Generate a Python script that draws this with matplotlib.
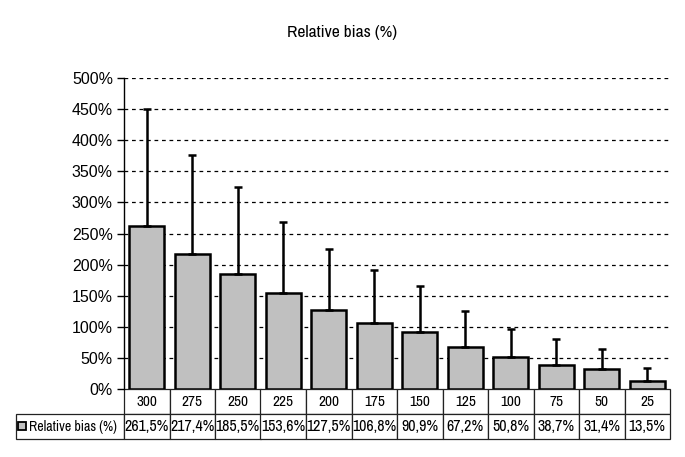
import numpy as np
import matplotlib.pyplot as plt
from matplotlib.patches import Rectangle

categories = ['300', '275', '250', '225', '200', '175', '150', '125', '100', '75', '50', '25']
bias = [261.5, 217.4, 185.5, 153.6, 127.5, 106.8, 90.9, 67.2, 50.8, 38.7, 31.4, 13.5]
upper = [450, 376, 325, 268, 225, 191, 166, 126, 97, 80, 65, 34]
yticks = [0, 50, 100, 150, 200, 250, 300, 350, 400, 450, 500]
series_name = 'Relative bias (%)'

narrow = ['Archivo Narrow', 'Roboto Condensed', 'Liberation Sans', 'DejaVu Sans']
plt.rcParams['font.family'] = ['Liberation Sans', 'DejaVu Sans']

fig = plt.figure(figsize=(6.85, 4.57), dpi=100)
ax = fig.add_axes([124 / 685, 1 - 389 / 457, 546 / 685, 311 / 457])

x = np.arange(len(categories))
bias = np.array(bias)
err = np.array(upper) - bias
ax.bar(x, bias, width=0.77, color='#c0c0c0', edgecolor='black', linewidth=1.8, zorder=3)
ax.errorbar(x, bias, yerr=[np.zeros_like(err), err], fmt='none', ecolor='black',
            elinewidth=1.8, capsize=3, capthick=1.8, zorder=4)

ax.set_xlim(-0.5, len(categories) - 0.5)
ax.set_ylim(0, 500)
ax.set_yticks(yticks)
ax.set_yticklabels([f'{v}%' for v in yticks], fontsize=11.5)
ax.set_xticks([])
for v in yticks[1:]:
    ax.axhline(v, color='black', linestyle=(0, (3, 3)), linewidth=0.9, zorder=1)
for s in ['top', 'right', 'bottom']:
    ax.spines[s].set_visible(False)
ax.spines['left'].set_linewidth(1.0)
ax.tick_params(axis='y', direction='out', length=5, width=1.0, pad=3)

# data table under the bars
label_w = 108 / 546
row_h = 25 / 311
cells = [[''] + categories,
         [series_name] + [f'{v:.1f}%'.replace('.', ',') for v in bias]]
col_w = [label_w] + [1 / len(categories)] * len(categories)
tab = ax.table(cellText=cells, colWidths=col_w, cellLoc='center',
               bbox=[-label_w, -2 * row_h, 1 + label_w, 2 * row_h])
tab.auto_set_font_size(False)
for (r, c), cell in tab.get_celld().items():
    cell.set_linewidth(0.9)
    cell.set_edgecolor('#222222')
    t = cell.get_text()
    t.set_fontfamily(narrow)
    t.set_fontsize(11 if r == 0 else 11.5)
tab[0, 0].visible_edges = 'open'
lab = tab[1, 0]
lab._loc = 'left'
lab.get_text().set_ha('left')
lab.get_text().set_fontsize(10)
lab.PAD = 0.12

ax.add_patch(Rectangle((-label_w + 2 / 546, -1.5 * row_h - 3.5 / 311), 8 / 546, 8 / 311,
                       transform=ax.transAxes, facecolor='#c0c0c0', edgecolor='black',
                       linewidth=1.3, clip_on=False, zorder=5))

fig.text(0.5, 1 - 33 / 457, series_name, ha='center', va='center', fontsize=12.5,
         family=narrow)

fig.savefig('out.png', dpi=100)
